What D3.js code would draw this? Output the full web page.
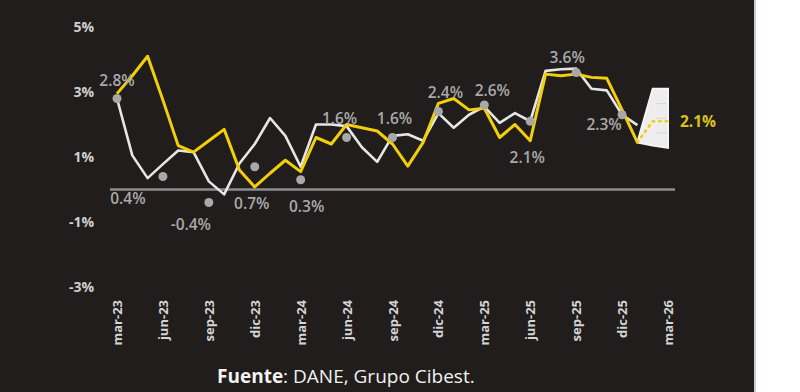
<!DOCTYPE html>
<html><head><meta charset="utf-8">
<script src="https://cdn.jsdelivr.net/npm/d3@7"></script>
<style>
html,body{margin:0;padding:0;background:#fff;}
svg{display:block;}
</style></head>
<body>
<svg id="c" width="800" height="392"></svg>
<script>
// ---- data ----
const months = ["mar-23","abr-23","may-23","jun-23","jul-23","ago-23","sep-23","oct-23","nov-23","dic-23",
  "ene-24","feb-24","mar-24","abr-24","may-24","jun-24","jul-24","ago-24","sep-24","oct-24","nov-24","dic-24",
  "ene-25","feb-25","mar-25","abr-25","may-25","jun-25","jul-25","ago-25","sep-25","oct-25","nov-25","dic-25","ene-26"];
const forecastMonths = ["ene-26","feb-26","mar-26"];
const yellowSeries = [2.95,3.5,4.1,2.75,1.35,1.15,1.5,1.85,0.6,0.08,0.5,0.9,0.55,1.6,1.4,2.0,1.9,1.8,1.4,0.72,1.45,2.65,
  2.8,2.45,2.5,1.6,2.0,1.5,3.55,3.5,3.55,3.45,3.42,2.45,1.45];
const whiteSeries = [2.8,1.05,0.35,0.78,1.2,1.15,0.25,-0.15,0.8,1.4,2.2,1.65,0.7,2.0,2.0,1.95,1.3,0.85,1.65,1.7,1.5,2.35,
  1.9,2.3,2.55,2.05,2.35,2.1,3.65,3.7,3.72,3.1,3.05,2.3,1.98];
const quarters = ["mar-23","jun-23","sep-23","dic-23","mar-24","jun-24","sep-24","dic-24","mar-25","jun-25","sep-25","dic-25"];
const gdpValues = [2.8,0.4,-0.4,0.7,0.3,1.6,1.6,2.4,2.6,2.1,3.6,2.3];
const gdpLabels = ["2.8%","0.4%","-0.4%","0.7%","0.3%","1.6%","1.6%","2.4%","2.6%","2.1%","3.6%","2.3%"];
const forecastCentral = [1.45,2.1,2.1];
const forecastUpper = [1.45,3.1,3.1];
const forecastLower = [1.45,1.35,1.28];
const forecastLabel = "2.1%";
const tickLabels = ["mar-23","jun-23","sep-23","dic-23","mar-24","jun-24","sep-24","dic-24","mar-25","jun-25","sep-25","dic-25","mar-26"];
const yTicks = [5,3,1,-1,-3];
const source = ["Fuente", ": DANE, Grupo Cibest."];

// ---- styling / layout (not data) ----
const labelOffsets = [[0,-19],[-35,21],[-18,21],[-3,36],[6,26],[-7,-20],[2,-20],[7,-20],[8,-15],[-3,36],[-9,-16],[-18,9]];
const BG = "#201d1c", YEL = "#f2cf0a", WHT = "#e6e6e6", GRY = "#a8a8a8";

const svg = d3.select("#c");
svg.append("rect").attr("x",0).attr("y",0).attr("width",754).attr("height",392).attr("fill",BG);
svg.append("rect").attr("x",754).attr("y",0).attr("width",2).attr("height",392).attr("fill","#9a9a9a").attr("opacity",0.5);

const allMonths = months.concat(forecastMonths.slice(1));
const x = d3.scalePoint().domain(allMonths).range([117,668]);
const y = d3.scaleLinear().domain([-3,5]).range([287,27]);

// y axis labels
const yAxis = d3.axisLeft(y).tickValues(yTicks).tickSize(0).tickPadding(0).tickFormat(d => d + "%");
const gy = svg.append("g").attr("transform","translate(94,0)").call(yAxis);
gy.select(".domain").remove();
gy.selectAll("text").attr("fill","#cfcfcf").style("font-family","'Open Sans',sans-serif")
  .style("font-size","14px").style("font-weight","700");

// x axis labels (rotated)
const xAxis = d3.axisBottom(x).tickValues(tickLabels).tickSize(0).tickPadding(0);
const gx = svg.append("g").attr("transform","translate(0,298)").call(xAxis);
gx.select(".domain").remove();
gx.selectAll("text").attr("fill","#d4d4d4").style("font-family","'Open Sans',sans-serif")
  .style("font-size","13px").style("font-weight","700")
  .attr("transform","rotate(-90)").attr("text-anchor","end").attr("dy","0.35em").attr("x",-2).attr("y",0);

// zero line
svg.append("line").attr("x1",110).attr("x2",675).attr("y1",y(0)).attr("y2",y(0))
  .attr("stroke","#8c8c8c").attr("stroke-width",2.5);

// forecast fan
const fan = forecastMonths.map((m,i)=>({m, lo:forecastLower[i], hi:forecastUpper[i], c:forecastCentral[i]}));
const area = d3.area().x(d=>x(d.m)).y0(d=>y(d.lo)).y1(d=>y(d.hi));
svg.append("path").datum(fan).attr("d",area).attr("fill","#ededed").attr("stroke","#f4f4f4").attr("stroke-width",2);
[0.25,0.5,0.75].forEach(t=>{
  svg.append("line").attr("x1",x(forecastMonths[1])+4).attr("x2",x(forecastMonths[2])-2)
    .attr("y1",y(forecastLower[2]+(forecastUpper[2]-forecastLower[2])*t))
    .attr("y2",y(forecastLower[2]+(forecastUpper[2]-forecastLower[2])*t))
    .attr("stroke","#d6d6d6").attr("stroke-width",1);
});

// lines
const line = d3.line().x((d,i)=>x(months[i])).y(d=>y(d));
svg.append("path").datum(whiteSeries).attr("d",line).attr("fill","none")
  .attr("stroke",WHT).attr("stroke-width",2.6).attr("stroke-linejoin","round");
svg.append("path").datum(yellowSeries).attr("d",line).attr("fill","none")
  .attr("stroke",YEL).attr("stroke-width",3).attr("stroke-linejoin","round");

// forecast central dotted
svg.append("path").datum(fan).attr("d",d3.line().x(d=>x(d.m)).y(d=>y(d.c)))
  .attr("fill","none").attr("stroke",YEL).attr("stroke-width",2.6).attr("stroke-dasharray","1.5,5").attr("stroke-linecap","round");

// quarterly GDP dots + labels
const gq = svg.append("g");
quarters.forEach((q,i)=>{
  gq.append("circle").attr("cx",x(q)).attr("cy",y(gdpValues[i])).attr("r",4.5).attr("fill",GRY);
  gq.append("text").attr("x",x(q)+labelOffsets[i][0]).attr("y",y(gdpValues[i])+labelOffsets[i][1])
    .attr("text-anchor","middle").attr("dominant-baseline","central")
    .attr("fill","#a9a9a9").style("font-family","'Open Sans',sans-serif").style("font-size","15.5px").style("font-weight","600")
    .text(gdpLabels[i]);
});

// forecast label
svg.append("text").attr("x",x(forecastMonths[2])+30).attr("y",y(forecastCentral[2]))
  .attr("text-anchor","middle").attr("dominant-baseline","central")
  .attr("fill","#d9c21a").style("font-family","'Open Sans',sans-serif").style("font-size","15.5px").style("font-weight","700")
  .text(forecastLabel);

// source
const src = svg.append("text").attr("x",217).attr("y",383).attr("fill","#f2f2f2")
  .style("font-family","'Open Sans',sans-serif").style("font-size","19px");
src.append("tspan").style("font-weight","700").text(source[0]);
src.append("tspan").text(source[1]);
</script>
</body></html>
